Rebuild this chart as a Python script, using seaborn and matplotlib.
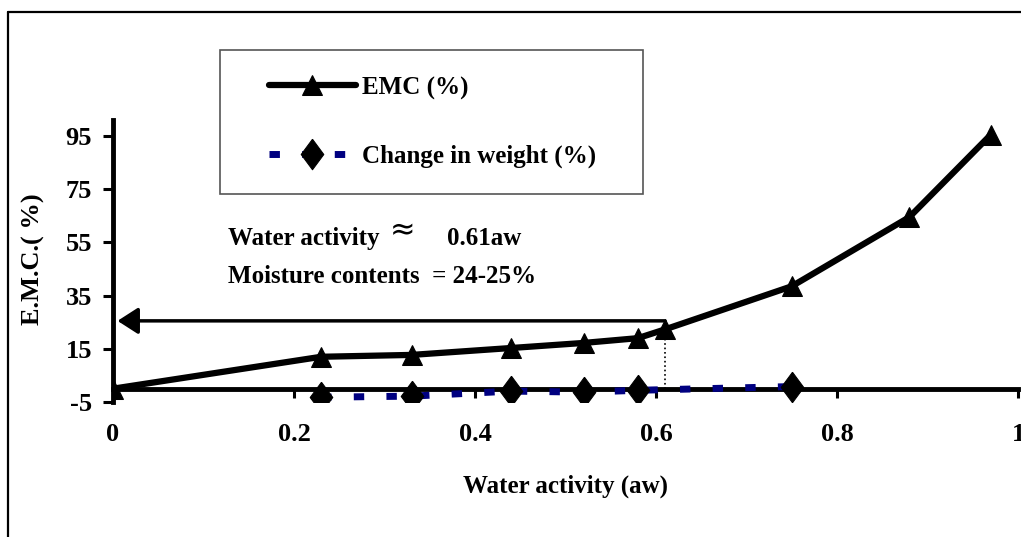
import numpy as np
import pandas as pd
import seaborn as sns
import matplotlib.pyplot as plt
from matplotlib.lines import Line2D
from matplotlib.patches import Rectangle

# values
aw_emc = [0.0, 0.23, 0.33, 0.44, 0.52, 0.58, 0.61, 0.75, 0.88, 0.97]
emc = [0.0, 12.0, 12.7, 15.3, 17.2, 19.0, 22.3, 38.5, 64.5, 95.5]

aw_weight = [0.23, 0.33, 0.44, 0.52, 0.58, 0.75]
weight_change = [-3.2, -2.8, -0.9, -1.3, -0.6, 0.8]

x_ticks = [0, 0.2, 0.4, 0.6, 0.8, 1]
x_tick_labels = ["0", "0.2", "0.4", "0.6", "0.8", "1"]
y_ticks = [-5, 15, 35, 55, 75, 95]

aw_target = 0.61
mc_target = 25.5

# Excel-style diamond, a bit wider than matplotlib's thin diamond
diamond = [(0, 1), (0.74, 0), (0, -1), (-0.74, 0), (0, 1)]

sns.set_style("white")
plt.rcParams["font.family"] = ["Liberation Serif", "DejaVu Serif"]
plt.rcParams["font.weight"] = "bold"
plt.rcParams["text.color"] = "black"
plt.rcParams["axes.labelcolor"] = "black"
plt.rcParams["xtick.color"] = "black"
plt.rcParams["ytick.color"] = "black"

fig = plt.figure(figsize=(10.21, 5.37), dpi=100)
ax = fig.add_axes([113 / 1021, 1 - 402 / 537, 905 / 1021, 282 / 537])

sns.lineplot(x=aw_emc, y=emc, ax=ax, color="black", lw=4.5, marker="^",
             markersize=14, markerfacecolor="black", markeredgecolor="black",
             label="EMC (%)", zorder=4)
sns.lineplot(x=aw_weight, y=weight_change, ax=ax, color="#000080", lw=5,
             linestyle=(0, (1.5, 3.2)), marker=diamond, markersize=22,
             markerfacecolor="black", markeredgecolor="black",
             label="Change in weight (%)", zorder=4)

# guide lines at aw = 0.61
ax.annotate("", xy=(0.005, mc_target), xytext=(aw_target, mc_target),
            arrowprops=dict(arrowstyle="-|>,head_length=0.7,head_width=0.45",
                            lw=2.5, color="black", shrinkA=0, shrinkB=0,
                            mutation_scale=18), zorder=3)
ax.plot([aw_target, aw_target], [0, 22.3], color="black", lw=1.2,
        linestyle=":", zorder=3)

ax.text(0.127, 54, "Water activity", fontsize=18, fontweight="bold",
        va="baseline")
ax.text(0.306, 59.5, "≈", fontsize=22, fontweight="normal",
        family=["DejaVu Sans"], va="center")
ax.text(0.369, 54, "0.61aw", fontsize=18, fontweight="bold", va="baseline")
ax.text(0.127, 39.7, "Moisture contents  = 24-25%", fontsize=18,
        fontweight="bold", va="baseline")

ax.set_xlim(0, 1)
ax.set_ylim(-5, 101)
ax.set_xticks(x_ticks)
ax.set_xticklabels(x_tick_labels)
ax.set_yticks(y_ticks)
ax.set_yticklabels([str(v) for v in y_ticks])

for side in ["top", "right"]:
    ax.spines[side].set_visible(False)
ax.spines["left"].set_linewidth(3.5)
ax.spines["bottom"].set_linewidth(3.5)
ax.spines["bottom"].set_position(("data", 0))
ax.spines["left"].set_color("black")
ax.spines["bottom"].set_color("black")

ax.tick_params(axis="x", direction="out", length=6.5, width=2.2, pad=18,
               labelsize=19, colors="black")
ax.tick_params(axis="y", direction="out", length=7, width=2.2, pad=8,
               labelsize=19, colors="black")
ax.tick_params(left=True, bottom=True)

ax.set_xlabel("Water activity (aw)", fontsize=18, fontweight="bold")
ax.set_ylabel("E.M.C.( %)", fontsize=19, fontweight="bold")
ax.xaxis.set_label_coords(0.5, (402 - 486) / 282, transform=ax.transAxes)
ax.xaxis.label.set_va("center")
ax.yaxis.set_label_coords(-0.075, 0.507)

leg = ax.legend(loc="center left", frameon=False, fontsize=18,
                bbox_to_anchor=(256 / 1021, 1 - 122 / 537),
                bbox_transform=fig.transFigure, borderpad=0,
                labelspacing=1.8, handlelength=3.5, handletextpad=0.24)

# legend frame and outer chart border
fig.add_artist(Rectangle((220 / 1021, 1 - 194 / 537), 423 / 1021, 144 / 537,
                         transform=fig.transFigure, fill=False,
                         edgecolor="#555555", lw=1.2))
fig.add_artist(Line2D([8 / 1021, 1], [1 - 12 / 537, 1 - 12 / 537],
                      transform=fig.transFigure, color="black", lw=1.6))
fig.add_artist(Line2D([8 / 1021, 8 / 1021], [0, 1 - 12 / 537],
                      transform=fig.transFigure, color="black", lw=1.6))

fig.savefig("out.png", dpi=100)
